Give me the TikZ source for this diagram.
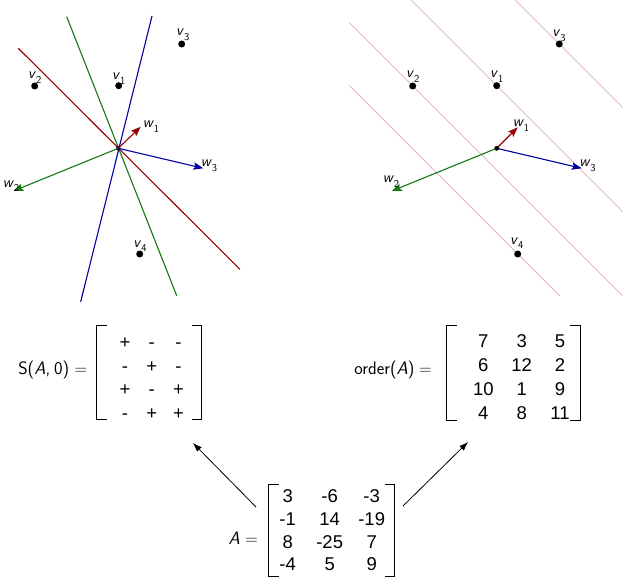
\documentclass[tikz,border=0pt]{standalone}
\usepackage{fontspec}
\newfontfamily\arialf{Liberation Sans}
\usetikzlibrary{arrows.meta,matrix,calc}
\definecolor{cred}{RGB}{150,0,0}
\definecolor{cgreen}{RGB}{20,120,20}
\definecolor{cblue}{RGB}{0,0,165}
\definecolor{cpink}{RGB}{228,185,185}
\newcommand\vl[2]{\textit{#1}\raisebox{-0.32em}{\fontsize{10.5}{10.5}\selectfont #2}}
\begin{document}
\begin{tikzpicture}[x=1pt,y=-1pt,
  dot/.style={circle,fill=black,inner sep=0pt,minimum size=7pt},
  odot/.style={circle,fill=black,inner sep=0pt,minimum size=4.5pt},
  plane/.style={line width=1.1pt},
  pinkline/.style={cpink,line width=0.9pt},
  warrow/.style={line width=1.1pt,-{Stealth[length=10pt,width=7.5pt,inset=2pt]}},
  vlab/.style={font=\sffamily\fontsize{15}{15}\selectfont,inner sep=0pt,anchor=base},
  lab/.style={font=\sffamily\fontsize{18}{18}\selectfont,inner sep=0pt},
  brk/.style={line width=0.9pt},
  mcell/.style={font=\arialf\fontsize{18.5}{18.5}\selectfont,inner sep=0pt,text height=13.2pt,text depth=0pt,anchor=center},
  bigarrow/.style={line width=0.8pt,-{Latex[length=9pt,width=6.5pt]}}]
\useasboundingbox (0,0) rectangle (623,580);

% ---------- left plot ----------
\draw[plane,cred] (18.3,48.3) -- (240,269.3);
\draw[plane,cgreen] (66.7,16.7) -- (176.7,295.7);
\draw[plane,cblue] (152,16) -- (80.7,301.7);
\node[odot] (o1) at (118.3,148.3) {};
\coordinate (w1L) at (140.7,126.7);
\coordinate (w2L) at (13.3,191);
\coordinate (w3L) at (203.3,168.3);
\draw[warrow,cred] (o1.center) -- (w1L);
\draw[warrow,cgreen] (o1.center) -- (w2L);
\draw[warrow,cblue] (o1.center) -- (w3L);
\node[dot] (v1L) at (118.7,85.7) {};
\node[dot] (v2L) at (34.7,86) {};
\node[dot] (v3L) at (181.7,44) {};
\node[dot] (v4L) at (139.7,254) {};
\node[vlab] (lv1L) at (118.7,79.5) {\vl{v}{1}};
\node[vlab] (lv2L) at (34.7,79) {\vl{v}{2}};
\node[vlab] (lv3L) at (182.7,36) {\vl{v}{3}};
\node[vlab] (lv4L) at (140,247) {\vl{v}{4}};
\node[vlab] (lw1L) at (151,127.5) {\vl{w}{1}};
\node[vlab] (lw2L) at (11,187) {\vl{w}{2}};
\node[vlab] (lw3L) at (209,167) {\vl{w}{3}};

% ---------- right plot ----------
\node[odot] (o2) at (496.7,148.3) {};
\coordinate (v1R) at (496.7,85.7);
\coordinate (v2R) at (412.7,86);
\coordinate (v3R) at (559.3,44);
\coordinate (v4R) at (517.7,254);
\begin{scope}
  \clip (349.3,0.5) rectangle (622.7,295.3);
  \foreach \p in {v1R,v2R,v3R,v4R}
    \draw[pinkline] ($(\p)+(-400,-400)$) -- ($(\p)+(400,400)$);
\end{scope}
\coordinate (w1R) at (517.7,127.3);
\coordinate (w2R) at (391.7,191);
\coordinate (w3R) at (581.7,168.3);
\draw[warrow,cred] (o2.center) -- (w1R);
\draw[warrow,cgreen] (o2.center) -- (w2R);
\draw[warrow,cblue] (o2.center) -- (w3R);
\node[odot] at (o2) {};
\foreach \p in {v1R,v2R,v3R,v4R} \node[dot] at (\p) {};
\node[vlab] (lv1R) at (496.7,77.5) {\vl{v}{1}};
\node[vlab] (lv2R) at (412.7,77.5) {\vl{v}{2}};
\node[vlab] (lv3R) at (559,36.5) {\vl{v}{3}};
\node[vlab] (lv4R) at (516.7,244) {\vl{v}{4}};
\node[vlab] (lw1R) at (521,126.5) {\vl{w}{1}};
\node[vlab] (lw2R) at (391,182.5) {\vl{w}{2}};
\node[vlab] (lw3R) at (587.5,166.5) {\vl{w}{3}};

% ---------- S(A,0) ----------
\matrix (Smat) [matrix of nodes,inner sep=0pt,column sep=0pt,row sep=0pt,
  nodes={mcell,minimum width=26.7pt,minimum height=23.8pt}] at (151.7,377.3) {
  + & - & - \\
  - & + & - \\
  + & - & + \\
  - & + & + \\};
\draw[brk] (106.7,325) -- (96.7,325) -- (96.7,419) -- (106.7,419);
\draw[brk] (191.7,325) -- (201.7,325) -- (201.7,419) -- (191.7,419);
\node[lab,anchor=east] (Slab) at (87.3,370) {S(\textit{A},\hspace{0.22em}0)\hspace{0.3em}$=$};

% ---------- order(A) ----------
\matrix (Omat) [matrix of nodes,inner sep=0pt,column sep=0pt,row sep=0pt,
  nodes={mcell,minimum width=38.35pt,minimum height=24pt}] at (521.7,377) {
  7 & 3 & 5 \\
  6 & 12 & 2 \\
  10 & 1 & 9 \\
  4 & 8 & 11 \\};
\draw[brk] (456.7,325) -- (446.7,325) -- (446.7,420) -- (456.7,420);
\draw[brk] (570,325) -- (580,325) -- (580,420) -- (570,420);
\node[lab,anchor=east] (Olab) at (431.7,370) {order(\textit{A})\hspace{0.25em}$=$};

% ---------- A ----------
\matrix (Amat) [matrix of nodes,inner sep=0pt,column sep=0pt,row sep=0pt,
  nodes={mcell,minimum width=42pt,minimum height=22.8pt}] at (329.7,530) {
  3 & -6 & -3 \\
  -1 & 14 & -19 \\
  8 & -25 & 7 \\
  -4 & 5 & 9 \\};
\draw[brk] (278.8,484) -- (268.8,484) -- (268.8,576.7) -- (278.8,576.7);
\draw[brk] (384.7,484) -- (394.7,484) -- (394.7,576.7) -- (384.7,576.7);
\node[lab,anchor=base east] (Alab) at (258,544) {\textit{A}\hspace{0.3em}$=$};

% ---------- arrows ----------
\coordinate (aS) at (256,507);
\coordinate (tS) at (193,443);
\coordinate (aO) at (403,506);
\coordinate (tO) at (468,442);
\draw[bigarrow] (aS) -- (tS);
\draw[bigarrow] (aO) -- (tO);
\end{tikzpicture}
\end{document}
